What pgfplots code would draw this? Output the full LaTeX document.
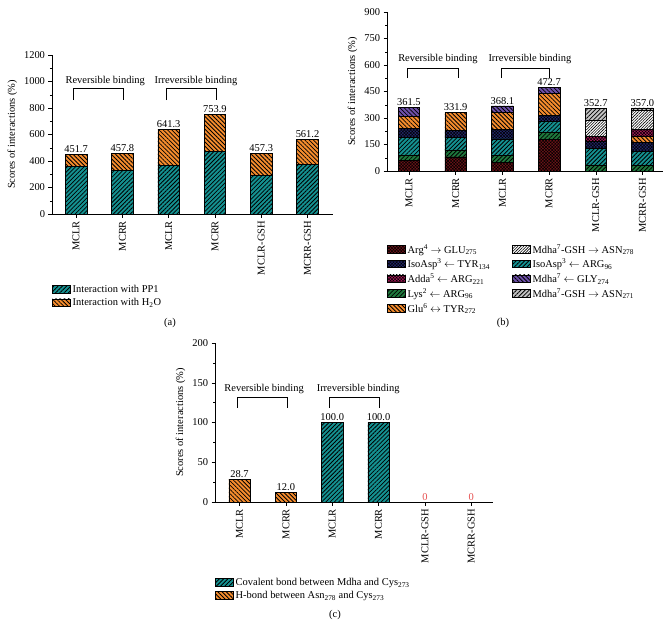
\documentclass[border=0pt]{standalone}
\usepackage{fontspec}
\setmainfont{Liberation Serif}
\usepackage{pgfplots}
\pgfplotsset{compat=1.18}
\usetikzlibrary{patterns.meta}

\newcommand{\fs}{\fontsize{10.5}{12.5}\selectfont}

\definecolor{cteal}{RGB}{20,145,145}
\definecolor{corange}{RGB}{245,140,45}
\definecolor{cred}{RGB}{110,20,25}
\definecolor{cnavy}{RGB}{35,40,110}
\definecolor{cmag}{RGB}{170,25,90}
\definecolor{cgreen}{RGB}{30,120,60}
\definecolor{cpurple}{RGB}{110,80,170}
\definecolor{cgray}{RGB}{195,195,195}
\definecolor{czero}{RGB}{230,80,80}

\tikzset{
  fwd/.style={draw=black, fill=#1, postaction={pattern={Lines[angle=45,distance=3bp,line width=0.8bp]}, pattern color=black}},
  bwd/.style={draw=black, fill=#1, postaction={pattern={Lines[angle=-45,distance=3bp,line width=0.8bp]}, pattern color=black}},
  xh/.style={draw=black, fill=#1, postaction={pattern={Hatch[angle=45,distance=2.2bp,line width=0.5bp]}, pattern color=black}},
  dense/.style={draw=black, fill=#1, postaction={pattern={Lines[angle=45,distance=2bp,line width=0.6bp]}, pattern color=black}},
  vlab/.style={font=\fs, anchor=south, inner sep=1.5bp},
}

\pgfplotsset{
  boxleg/.style={legend image code/.code={\draw[##1, line width=0.5bp] (0bp,-3.5bp) rectangle (18bp,4bp);}},
  panel/.style={
    scale only axis, height=159bp,
    axis lines*=left, axis line style={-, line width=0.6bp},
    tick align=outside, major tick length=3.5bp, minor tick length=2bp,
    tick style={line width=0.5bp, black},
    ymin=0, xtick={0,...,5},
    xticklabels={MCLR,MCRR,MCLR,MCRR,MCLR-GSH,MCRR-GSH},
    xticklabel style={rotate=90, anchor=east},
    tick label style={font=\fs},
    /pgf/number format/assume math mode=true,
    /pgf/number format/1000 sep={},
    ylabel={Scores of interactions (\%)},
    label style={font=\fs},
    minor y tick num=1,
    legend cell align=left,
    legend style={draw=none, fill=none, inner sep=0pt, font=\fs, row sep=0.5bp},
    bar width=21.5bp,
  },
}

\begin{document}
\begin{tikzpicture}
\useasboundingbox (0,0) rectangle (671bp,-637bp);

% (a)
\begin{axis}[panel, ybar stacked, boxleg,
  at={(52bp,-214bp)}, anchor=south west, width=281bp,
  xmin=-0.52, xmax=5.55, ymax=1200, ytick={0,200,...,1200},
  legend style={at={(axis cs:-0.52,-521)}, anchor=north west},
]
\addplot[fwd=cteal, line width=0.6bp] coordinates {(0,361.5) (1,331.9) (2,368.1) (3,472.7) (4,290.0) (5,377.0)};
\addplot[bwd=corange, line width=0.6bp] coordinates {(0,90.2) (1,125.9) (2,273.2) (3,281.2) (4,167.3) (5,184.2)};
\legend{Interaction with PP1, Interaction with H\textsubscript{2}O}
\node[vlab] at (axis cs:0,451.7) {451.7};
\node[vlab] at (axis cs:1,457.8) {457.8};
\node[vlab] at (axis cs:2,641.3) {641.3};
\node[vlab] at (axis cs:3,753.9) {753.9};
\node[vlab] at (axis cs:4,457.3) {457.3};
\node[vlab] at (axis cs:5,561.2) {561.2};
\draw[line width=0.6bp] (axis cs:-0.06,860) |- (axis cs:1.02,949) -- (axis cs:1.02,860);
\draw[line width=0.6bp] (axis cs:1.94,860) |- (axis cs:3.02,949) -- (axis cs:3.02,860);
\node[font=\fs] at (axis cs:0.63,1006) {Reversible binding};
\node[font=\fs] at (axis cs:2.59,1006) {Irreversible binding};
\end{axis}

% (b)
\begin{axis}[panel, ybar stacked, boxleg,
  at={(387bp,-171bp)}, anchor=south west, width=276bp,
  xmin=-0.47, xmax=5.44, ymax=900, ytick={0,150,...,900},
  legend columns=2,
  legend style={at={(axis description cs:0,-0.447)}, anchor=north west, /tikz/column 2/.style={column sep=20bp}},
]
\addplot[xh=cred, line width=0.6bp, forget plot] coordinates {(0,58) (1,80) (2,47) (3,177) (4,0) (5,0)};
\addplot[fwd=cgreen, line width=0.6bp, forget plot] coordinates {(0,33) (1,40) (2,40) (3,44) (4,34) (5,30)};
\addplot[fwd=cteal, line width=0.6bp, forget plot] coordinates {(0,100) (1,72) (2,95) (3,62) (4,94) (5,79)};
\addplot[xh=cnavy, line width=0.6bp, forget plot] coordinates {(0,48) (1,38) (2,55) (3,32) (4,38) (5,51)};
\addplot[bwd=corange, line width=0.6bp, forget plot] coordinates {(0,72) (1,101.9) (2,95) (3,123) (4,0) (5,38)};
\addplot[xh=cmag, line width=0.6bp, forget plot] coordinates {(0,0) (1,0) (2,0) (3,0) (4,32) (5,38)};
\addplot[bwd=cpurple, line width=0.6bp, forget plot] coordinates {(0,50.5) (1,0) (2,36.1) (3,34.7) (4,0) (5,0)};
\addplot[dense=white, line width=0.6bp, forget plot] coordinates {(0,0) (1,0) (2,0) (3,0) (4,91) (5,109)};
\addplot[fwd=cgray, line width=0.6bp, forget plot] coordinates {(0,0) (1,0) (2,0) (3,0) (4,63.7) (5,12)};
\addlegendimage{boxleg, xh=cred}
\addlegendentry{Arg\textsuperscript{4} $\rightarrow$ GLU\textsubscript{275}}
\addlegendimage{boxleg, dense=white}
\addlegendentry{Mdha\textsuperscript{7}-GSH $\rightarrow$ ASN\textsubscript{278}}
\addlegendimage{boxleg, xh=cnavy}
\addlegendentry{IsoAsp\textsuperscript{3} $\leftarrow$ TYR\textsubscript{134}}
\addlegendimage{boxleg, fwd=cteal}
\addlegendentry{IsoAsp\textsuperscript{3} $\leftarrow$ ARG\textsubscript{96}}
\addlegendimage{boxleg, xh=cmag}
\addlegendentry{Adda\textsuperscript{5} $\leftarrow$ ARG\textsubscript{221}}
\addlegendimage{boxleg, bwd=cpurple}
\addlegendentry{Mdha\textsuperscript{7} $\leftarrow$ GLY\textsubscript{274}}
\addlegendimage{boxleg, fwd=cgreen}
\addlegendentry{Lys\textsuperscript{2} $\leftarrow$ ARG\textsubscript{96}}
\addlegendimage{boxleg, fwd=cgray}
\addlegendentry{Mdha\textsuperscript{7}-GSH $\rightarrow$ ASN\textsubscript{271}}
\addlegendimage{boxleg, bwd=corange}
\addlegendentry{Glu\textsuperscript{6} $\leftrightarrow$ TYR\textsubscript{272}}
\node[vlab] at (axis cs:0,361.5) {361.5};
\node[vlab] at (axis cs:1,331.9) {331.9};
\node[vlab] at (axis cs:2,368.1) {368.1};
\node[vlab] at (axis cs:3,472.7) {472.7};
\node[vlab] at (axis cs:4,352.7) {352.7};
\node[vlab] at (axis cs:5,357.0) {357.0};
\draw[line width=0.6bp] (axis cs:-0.04,526) |- (axis cs:1.05,583) -- (axis cs:1.05,526);
\draw[line width=0.6bp] (axis cs:1.97,526) |- (axis cs:3.0,583) -- (axis cs:3.0,526);
\node[font=\fs] at (axis cs:0.62,634) {Reversible binding};
\node[font=\fs] at (axis cs:2.59,634) {Irreversible binding};
\end{axis}

% (c)
\begin{axis}[panel, ybar, bar shift=0pt, boxleg,
  at={(215bp,-502bp)}, anchor=south west, width=278bp,
  xmin=-0.53, xmax=5.47, ymax=200, ytick={0,50,...,200},
  legend style={at={(axis description cs:0,-0.465)}, anchor=north west},
]
\addplot[fwd=cteal, line width=0.6bp] coordinates {(2,100) (3,100)};
\addplot[bwd=corange, line width=0.6bp] coordinates {(0,28.7) (1,12.0)};
\legend{Covalent bond between Mdha and Cys\textsubscript{273}, H-bond between Asn\textsubscript{278} and Cys\textsubscript{273}}
\node[vlab] at (axis cs:0,28.7) {28.7};
\node[vlab] at (axis cs:1,12.0) {12.0};
\node[vlab] at (axis cs:2,100) {100.0};
\node[vlab] at (axis cs:3,100) {100.0};
\node[vlab, text=czero] at (axis cs:4,0) {0};
\node[vlab, text=czero] at (axis cs:5,0) {0};
\draw[line width=0.6bp] (axis cs:-0.05,118.6) |- (axis cs:1.03,131.7) -- (axis cs:1.03,118.6);
\draw[line width=0.6bp] (axis cs:1.93,118.6) |- (axis cs:3.01,131.7) -- (axis cs:3.01,118.6);
\node[font=\fs] at (axis cs:0.53,142) {Reversible binding};
\node[font=\fs] at (axis cs:2.56,142) {Irreversible binding};
\end{axis}

\node[font=\fs] at (170bp,-323bp) {(a)};
\node[font=\fs] at (503bp,-323bp) {(b)};
\node[font=\fs] at (335bp,-615bp) {(c)};
\end{tikzpicture}
\end{document}
